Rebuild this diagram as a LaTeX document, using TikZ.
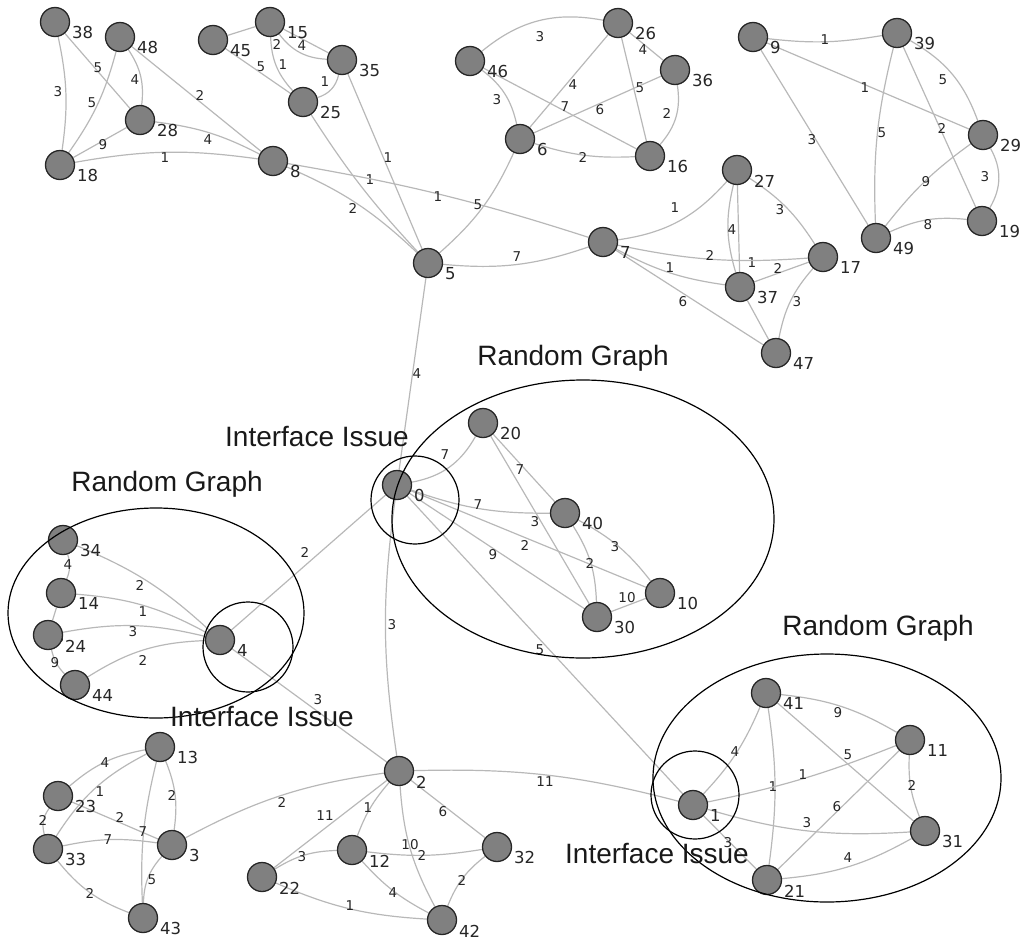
\documentclass[tikz,border=0pt]{standalone}
\usepackage{fontspec}
\setmainfont{Liberation Sans}
\newfontfamily\numfont{DejaVu Sans}
\usetikzlibrary{backgrounds}
\begin{document}
\begin{tikzpicture}[x=1pt,y=1pt,
  v/.style={circle,draw=black!85,line width=1.3pt,fill=black!50,minimum size=29pt,inner sep=0pt},
  e/.style={draw=black!28,line width=1.2pt},
  el/.style={font=\numfont\fontsize{13.5}{13.5}\selectfont,text=black!85,inner sep=0pt},
  nl/.style={font=\numfont\fontsize{16.5}{16.5}\selectfont,text=black!85,anchor=west,label distance=5pt,inner sep=0pt},
  ring/.style={draw=black,line width=1.2pt},
  title/.style={font=\fontsize{28}{28}\selectfont,text=black!90,inner sep=0pt}]
\path[use as bounding box] (0,0) rectangle (1026,-940);

% vertices
\foreach \n/\x/\y in {0/397/485,1/693/805,2/399/771,3/172/845,4/220/640,5/428/263,
  6/520/139,7/603/242,8/273/161,9/753/37,10/660/593,11/910/740,12/352/850,
  13/160/747,14/61/593,15/270/22,16/650/156,17/823/257,18/60/165,19/982/221,
  20/483/423,21/767/880,22/262/877,23/58/796,24/48/635,25/303/102,26/618/23,
  27/737/170,28/140/120,29/983/135,30/597/617,31/925/831,32/497/847,33/48/849,
  34/63/540,35/342/60,36/675/70,37/740/287,38/55/22,39/897/33,40/565/513,
  41/766/693,42/442/920,43/143/918,44/75/685,45/213/40,46/470/61,47/776/353,
  48/120/37,49/876/238}
  \node[v,label={[nl]-33:\n}] (n\n) at (\x,-\y) {};

\begin{pgfonlayer}{background}
% top-left group
\draw[e] (n38) to[bend left=10] (n18) node[el] at (58,-92) {3};
\draw[e] (n38) -- (n28) node[el] at (98,-68) {5};
\draw[e] (n48) to[bend left=10] (n18) node[el] at (92,-103) {5};
\draw[e] (n48) to[bend left=20] (n28) node[el] at (135,-80) {4};
\draw[e] (n48) -- (n8) node[el] at (200,-95) {2};
\draw[e] (n28) -- (n18) node[el] at (103,-145) {9};
\draw[e] (n18) to[bend left=9] (n8) node[el] at (165,-158) {1};
\draw[e] (n28) to[bend left=10] (n8) node[el] at (208,-140) {4};
% 45 / 15 / 35 / 25
\draw[e] (n45) -- (n15);
\draw[e] (n15) -- (n35) node[el] at (302,-46) {4};
\draw[e] (n15) to[bend right=25] (n35) node[el] at (277,-44) {2};
\draw[e] (n15) to[bend right=20] (n25) node[el] at (261,-67) {5};
\draw[e] (n45) -- (n25) node[el] at (283,-65) {1};
\draw[e] (n35) to[bend left=30] (n25) node[el] at (325,-82) {1};
\draw[e] (n25) to[bend right=5] (n5) node[el] at (370,-180) {1};
\draw[e] (n35) -- (n5) node[el] at (388,-158) {1};
\draw[e] (n8) to[bend left=10] (n5) node[el] at (353,-208) {2};
\draw[e] (n8) to[bend left=4] (n7) node[el] at (438,-197) {1};
% 46 / 26 / 36 / 6 / 16
\draw[e] (n46) to[bend left=25] (n26) node[el] at (540,-37) {3};
\draw[e] (n46) to[bend left=20] (n6) node[el] at (497,-100) {3};
\draw[e] (n46) -- (n16) node[el] at (600,-110) {6};
\draw[e] (n26) -- (n6) node[el] at (573,-85) {4};
\draw[e] (n6) -- (n36) node[el] at (565,-107) {7};
\draw[e] (n26) -- (n16) node[el] at (640,-88) {5};
\draw[e] (n26) -- (n36) node[el] at (643,-50) {4};
\draw[e] (n36) to[bend left=25] (n16) node[el] at (667,-113) {2};
\draw[e] (n6) to[bend right=10] (n16) node[el] at (583,-157) {2};
\draw[e] (n6) to[bend left=12] (n5) node[el] at (478,-205) {5};
% 9 / 39 / 29 / 19 / 49
\draw[e] (n9) to[bend right=8] (n39) node[el] at (825,-40) {1};
\draw[e] (n9) -- (n29) node[el] at (865,-88) {1};
\draw[e] (n9) -- (n49) node[el] at (812,-140) {3};
\draw[e] (n39) to[bend right=8] (n49) node[el] at (882,-133) {5};
\draw[e] (n39) to[bend left=20] (n29) node[el] at (943,-80) {5};
\draw[e] (n39) -- (n19) node[el] at (942,-128) {2};
\draw[e] (n29) to[bend right=8] (n49) node[el] at (926,-182) {9};
\draw[e] (n29) to[bend left=30] (n19) node[el] at (985,-177) {3};
\draw[e] (n49) to[bend left=15] (n19) node[el] at (928,-225) {8};
% 27 / 7 / 17 / 37 / 47
\draw[e] (n7) to[bend right=20] (n27) node[el] at (675,-208) {1};
\draw[e] (n27) to[bend right=15] (n37) node[el] at (732,-230) {4};
\draw[e] (n27) -- (n37) node[el] at (752,-263) {1};
\draw[e] (n27) to[bend left=12] (n17) node[el] at (780,-210) {3};
\draw[e] (n7) to[bend right=8] (n17) node[el] at (710,-255) {2};
\draw[e] (n37) -- (n17) node[el] at (778,-268) {2};
\draw[e] (n7) to[bend right=10] (n37) node[el] at (670,-268) {1};
\draw[e] (n7) -- (n47) node[el] at (683,-302) {6};
\draw[e] (n37) -- (n47);
\draw[e] (n17) to[bend right=15] (n47) node[el] at (797,-302) {3};
\draw[e] (n5) to[bend right=12] (n7) node[el] at (517,-257) {7};
% central group
\draw[e] (n5) -- (n0) node[el] at (417,-374) {4};
\draw[e] (n0) to[bend right=25] (n20) node[el] at (445,-455) {7};
\draw[e] (n0) to[bend right=10] (n40) node[el] at (478,-505) {7};
\draw[e] (n20) -- (n40) node[el] at (520,-470) {7};
\draw[e] (n20) -- (n30) node[el] at (535,-522) {3};
\draw[e] (n0) -- (n10) node[el] at (525,-545) {2};
\draw[e] (n0) -- (n30) node[el] at (493,-555) {9};
\draw[e] (n40) to[bend left=15] (n30) node[el] at (590,-563) {2};
\draw[e] (n40) to[bend left=12] (n10) node[el] at (615,-547) {3};
\draw[e] (n30) -- (n10) node[el] at (627,-598) {10};
\draw[e] (n0) -- (n4) node[el] at (305,-552) {2};
\draw[e] (n0) to[bend right=8] (n2) node[el] at (392,-625) {3};
\draw[e] (n0) -- (n1) node[el] at (540,-650) {5};
\draw[e] (n4) -- (n2) node[el] at (318,-700) {3};
% left group
\draw[e] (n4) to[bend right=10] (n34) node[el] at (140,-585) {2};
\draw[e] (n4) to[bend right=12] (n14) node[el] at (143,-612) {1};
\draw[e] (n4) to[bend right=12] (n24) node[el] at (133,-632) {3};
\draw[e] (n4) to[bend right=15] (n44) node[el] at (143,-660) {2};
\draw[e] (n34) to[bend left=20] (n14) node[el] at (68,-565) {4};
\draw[e] (n14) -- (n24) node[el] at (60,-638) {3};
\draw[e] (n24) to[bend right=15] (n44) node[el] at (55,-663) {9};
% bottom-left group
\draw[e] (n23) to[bend left=15] (n13) node[el] at (105,-763) {4};
\draw[e] (n33) to[bend left=15] (n13) node[el] at (100,-792) {1};
\draw[e] (n23) to[bend right=25] (n33) node[el] at (43,-820) {2};
\draw[e] (n23) -- (n3) node[el] at (120,-817) {2};
\draw[e] (n33) to[bend left=10] (n3) node[el] at (108,-840) {7};
\draw[e] (n13) to[bend left=15] (n3) node[el] at (172,-795) {2};
\draw[e] (n13) to[bend right=8] (n43) node[el] at (143,-832) {7};
\draw[e] (n3) to[bend right=20] (n43) node[el] at (152,-880) {5};
\draw[e] (n33) to[bend right=15] (n43) node[el] at (90,-893) {2};
\draw[e] (n2) to[bend right=10] (n3) node[el] at (282,-802) {2};
% bottom-middle group
\draw[e] (n2) -- (n22) node[el] at (325,-816) {11};
\draw[e] (n2) to[bend right=10] (n12) node[el] at (368,-808) {1};
\draw[e] (n2) to[bend right=12] (n42) node[el] at (410,-845) {10};
\draw[e] (n2) -- (n32) node[el] at (443,-812) {6};
\draw[e] (n2) to[bend left=8] (n1) node[el] at (545,-782) {11};
\draw[e] (n12) to[bend right=15] (n22) node[el] at (302,-857) {3};
\draw[e] (n12) to[bend right=8] (n32) node[el] at (422,-855) {2};
\draw[e] (n12) to[bend right=10] (n42) node[el] at (393,-893) {4};
\draw[e] (n22) to[bend right=10] (n42) node[el] at (350,-906) {1};
\draw[e] (n32) to[bend right=15] (n42) node[el] at (462,-880) {2};
% bottom-right group
\draw[e] (n1) to[bend right=10] (n41) node[el] at (735,-752) {4};
\draw[e] (n41) to[bend left=12] (n11) node[el] at (838,-713) {9};
\draw[e] (n41) -- (n31) node[el] at (848,-755) {5};
\draw[e] (n41) to[bend left=8] (n21) node[el] at (773,-787) {1};
\draw[e] (n1) to[bend right=5] (n11) node[el] at (803,-775) {1};
\draw[e] (n11) -- (n21) node[el] at (837,-807) {6};
\draw[e] (n11) to[bend right=12] (n31) node[el] at (912,-785) {2};
\draw[e] (n1) to[bend right=10] (n31) node[el] at (807,-823) {3};
\draw[e] (n21) to[bend right=12] (n31) node[el] at (848,-858) {4};
\draw[e] (n1) -- (n21) node[el] at (728,-843) {3};
\end{pgfonlayer}

% cluster outlines
\draw[ring] (583,-519) ellipse [x radius=191,y radius=139];
\draw[ring] (156,-613) ellipse [x radius=148,y radius=105];
\draw[ring] (827,-778) ellipse [x radius=174,y radius=124];
\draw[ring] (415,-500) circle [radius=44];
\draw[ring] (248,-647) circle [radius=45];
\draw[ring] (695,-795) circle [radius=44];

% captions
\node[title] (rgc) at (573,-358) {Random Graph};
\node[title] (rgl) at (167,-484) {Random Graph};
\node[title] (rgr) at (878,-628) {Random Graph};
\node[title] (ii0) at (317,-436) {Interface Issue};
\node[title] (ii4) at (262,-716) {Interface Issue};
\node[title] (ii1) at (657,-853) {Interface Issue};
\end{tikzpicture}
\end{document}
